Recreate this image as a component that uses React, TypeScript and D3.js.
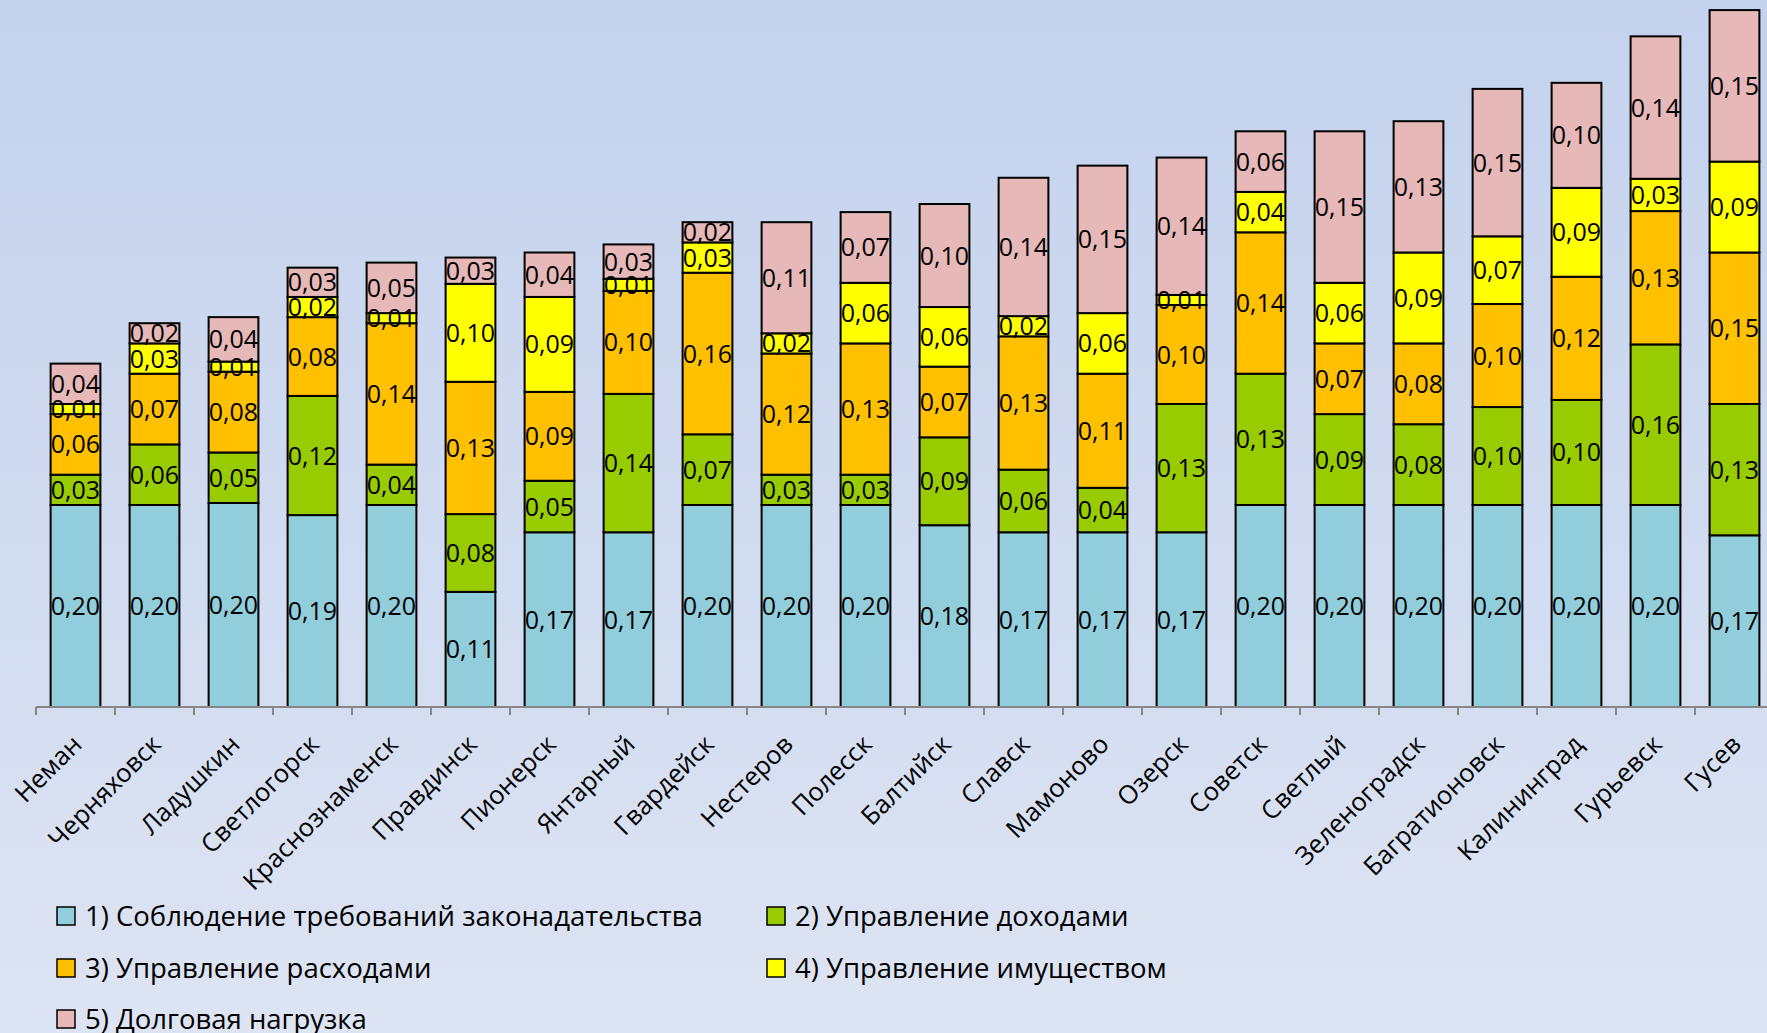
import React, { useRef, useEffect } from 'react';
import * as d3 from 'd3';

const cities = [
  'Неман', 'Черняховск', 'Ладушкин', 'Светлогорск', 'Краснознаменск', 'Правдинск',
  'Пионерск', 'Янтарный', 'Гвардейск', 'Нестеров', 'Полесск', 'Балтийск', 'Славск',
  'Мамоново', 'Озерск', 'Советск', 'Светлый', 'Зеленоградск', 'Багратионовск',
  'Калининград', 'Гурьевск', 'Гусев',
];

// values (labels show them rounded to 2 decimals)
const law = [0.2, 0.2, 0.202, 0.19, 0.2, 0.114, 0.173, 0.173, 0.2, 0.2, 0.2, 0.18, 0.173, 0.173, 0.173, 0.2, 0.2, 0.2, 0.2, 0.2, 0.2, 0.17];
const income = [0.03, 0.06, 0.05, 0.118, 0.04, 0.077, 0.051, 0.137, 0.07, 0.03, 0.03, 0.087, 0.062, 0.044, 0.127, 0.13, 0.09, 0.08, 0.097, 0.104, 0.159, 0.13];
const expense = [0.06, 0.07, 0.08, 0.078, 0.14, 0.131, 0.088, 0.102, 0.16, 0.12, 0.13, 0.07, 0.132, 0.113, 0.098, 0.14, 0.07, 0.08, 0.102, 0.122, 0.132, 0.15];
const property = [0.01, 0.03, 0.01, 0.02, 0.01, 0.097, 0.094, 0.012, 0.03, 0.02, 0.06, 0.059, 0.02, 0.06, 0.01, 0.04, 0.06, 0.09, 0.067, 0.088, 0.032, 0.09];
const debt = [0.04, 0.02, 0.044, 0.029, 0.05, 0.026, 0.044, 0.034, 0.02, 0.11, 0.07, 0.102, 0.137, 0.146, 0.136, 0.06, 0.15, 0.13, 0.146, 0.104, 0.141, 0.15];

const seriesNames = [
  '1) Соблюдение требований законадательства',
  '2) Управление доходами',
  '3) Управление расходами',
  '4) Управление имуществом',
  '5) Долговая нагрузка',
];
const seriesColors = ['#92cddc', '#99cc00', '#ffc000', '#ffff00', '#e6b9b8'];

const W = 1767;
const H = 1033;
const FONT = '"Open Sans", sans-serif';

const App: React.FC = () => {
  const ref = useRef<SVGSVGElement | null>(null);

  useEffect(() => {
    document.body.style.margin = '0';
    if (!ref.current) return;
    const svg = d3.select(ref.current);
    svg.selectAll('*').remove();

    // background gradient
    const grad = svg.append('defs').append('linearGradient')
      .attr('id', 'bg').attr('x1', 0).attr('y1', 0).attr('x2', 0).attr('y2', 1);
    grad.append('stop').attr('offset', '0%').attr('stop-color', '#c4d2ed');
    grad.append('stop').attr('offset', '100%').attr('stop-color', '#dde4f3');
    svg.append('rect').attr('width', W).attr('height', H).attr('fill', 'url(#bg)');

    const baseY = 707;
    const x = d3.scaleBand<string>()
      .domain(cities)
      .range([36, 36 + 79 * cities.length])
      .paddingInner(0.37)
      .paddingOuter(0.185);
    const y = d3.scaleLinear().domain([0, 0.7]).range([baseY, 0]);

    const rows = cities.map((c, i) => ({
      city: c,
      s0: law[i], s1: income[i], s2: expense[i], s3: property[i], s4: debt[i],
    }));
    const keys = ['s0', 's1', 's2', 's3', 's4'];
    const stacked = d3.stack<any>().keys(keys)(rows);

    const g = svg.append('g');
    stacked.forEach((layer, li) => {
      g.append('g').selectAll('rect')
        .data(layer)
        .enter()
        .append('rect')
        .attr('x', (d) => x(d.data.city)!)
        .attr('width', x.bandwidth())
        .attr('y', (d) => y(d[1]))
        .attr('height', (d) => y(d[0]) - y(d[1]))
        .attr('fill', seriesColors[li])
        .attr('stroke', '#000')
        .attr('stroke-width', 2);
    });
    // value labels
    stacked.forEach((layer) => {
      g.append('g').selectAll('text')
        .data(layer)
        .enter()
        .append('text')
        .attr('x', (d) => x(d.data.city)! + x.bandwidth() / 2)
        .attr('y', (d) => (y(d[0]) + y(d[1])) / 2)
        .attr('dy', '0.36em')
        .attr('text-anchor', 'middle')
        .attr('font-family', FONT)
        .attr('font-size', 25)
        .attr('fill', '#000')
        .text((d) => d3.format('.2f')(d[1] - d[0]).replace('.', ','));
    });

    // x axis
    const axis = svg.append('g').attr('stroke', '#868686').attr('stroke-width', 2);
    axis.append('line').attr('x1', 36).attr('x2', W).attr('y1', baseY).attr('y2', baseY);
    d3.range(cities.length + 1).forEach((k) => {
      const tx = 36 + x.step() * k;
      axis.append('line').attr('x1', tx).attr('x2', tx).attr('y1', baseY).attr('y2', baseY + 8);
    });

    svg.append('g').selectAll('text')
      .data(cities)
      .enter()
      .append('text')
      .attr('transform', (c) => `translate(${x(c)! + x.bandwidth() / 2 + 8},${baseY + 39}) rotate(-45)`)
      .attr('text-anchor', 'end')
      .attr('font-family', FONT)
      .attr('font-size', 25.5)
      .attr('fill', '#000')
      .text((c) => c);

    // legend
    const legendPos = [
      [57, 916], [767, 916], [57, 968], [767, 968], [57, 1019],
    ];
    const leg = svg.append('g');
    seriesNames.forEach((name, i) => {
      const [lx, ly] = legendPos[i];
      leg.append('rect')
        .attr('x', lx).attr('y', ly - 9).attr('width', 18).attr('height', 18)
        .attr('fill', seriesColors[i]).attr('stroke', '#000').attr('stroke-width', 1.5);
      leg.append('text')
        .attr('x', lx + 28).attr('y', ly).attr('dy', '0.36em')
        .attr('font-family', FONT).attr('font-size', 27.5).attr('fill', '#000')
        .text(name);
    });
  }, []);

  return <svg ref={ref} width={W} height={H} style={{ display: 'block' }} />;
};

export default App;
